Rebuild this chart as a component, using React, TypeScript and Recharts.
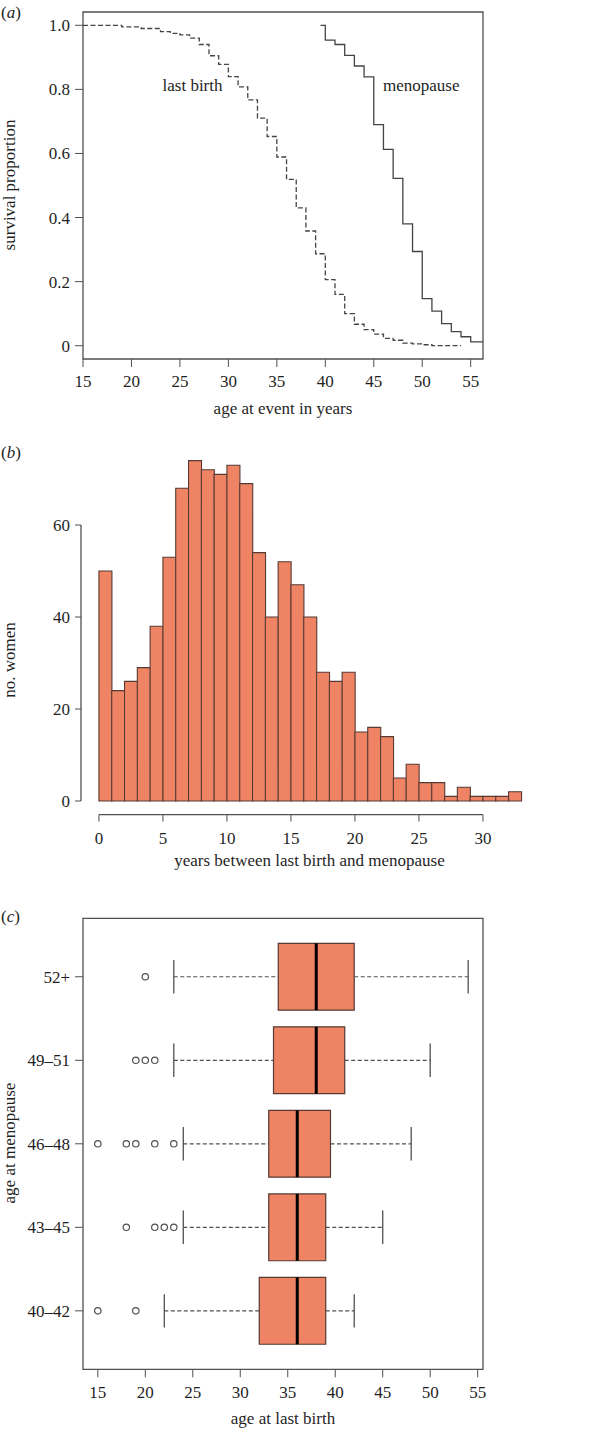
import React from 'react';
import {
  ComposedChart,
  Line,
  Bar,
  Scatter,
  XAxis,
  YAxis,
  ReferenceArea,
  ReferenceLine,
  ReferenceDot,
} from 'recharts';

const FONT = '"Liberation Serif", "Times New Roman", serif';
const INK = '#1f1f1f';
const AXIS = '#505050';
const SALMON = '#EE8464';
const EDGE = '#563a33';

// (a) survival curves
const lastBirthAge = [15, 19, 21, 23, 24, 25, 26, 27, 28, 29, 30, 31, 32, 33, 34, 35, 36, 37, 38, 39, 40, 41, 42, 43, 44, 45, 46, 47, 48, 49, 50, 51, 54];
const lastBirthSurv = [1.0, 0.995, 0.99, 0.98, 0.975, 0.97, 0.96, 0.94, 0.905, 0.878, 0.84, 0.808, 0.767, 0.71, 0.653, 0.589, 0.519, 0.43, 0.358, 0.287, 0.206, 0.16, 0.1, 0.067, 0.05, 0.036, 0.023, 0.017, 0.008, 0.006, 0.003, 0, 0];
const menoAge = [39.5, 40, 41, 42, 43, 44, 45, 46, 47, 48, 49, 50, 51, 52, 53, 54, 55, 57];
const menoSurv = [1.0, 0.954, 0.94, 0.906, 0.873, 0.839, 0.69, 0.613, 0.522, 0.38, 0.294, 0.147, 0.108, 0.069, 0.044, 0.028, 0.012, 0.012];
const ageTicks = [15, 20, 25, 30, 35, 40, 45, 50, 55];
const survTicks = [0, 0.2, 0.4, 0.6, 0.8, 1.0];

// (b) years between last birth and menopause, 1-year bins starting at 0
const gapCounts = [50, 24, 26, 29, 38, 53, 68, 74, 72, 71, 73, 69, 54, 40, 52, 47, 40, 28, 26, 28, 15, 16, 14, 5, 8, 4, 4, 1, 3, 1, 1, 1, 2];
const gapTicks = [0, 5, 10, 15, 20, 25, 30];
const countTicks = [0, 20, 40, 60];

// (c) age at last birth by age at menopause
const groups = ['40–42', '43–45', '46–48', '49–51', '52+'];
const whiskLo = [22, 24, 24, 23, 23];
const q1 = [32, 33, 33, 33.5, 34];
const med = [36, 36, 36, 38, 38];
const q3 = [39, 39, 39.5, 41, 42];
const whiskHi = [42, 45, 48, 50, 54];
const outliers = [[15, 19], [18, 21, 22, 23], [15, 18, 19, 21, 23], [19, 20, 21], [20]];
const birthTicks = [15, 20, 25, 30, 35, 40, 45, 50, 55];

const lastBirthData = lastBirthAge.map((x, i) => ({ x, y: lastBirthSurv[i] }));
const menoData = menoAge.map((x, i) => ({ x, y: menoSurv[i] }));
// bars sit on bin midpoints of a numeric axis
const gapData = gapCounts.map((n, i) => ({ mid: i + 0.5, n }));
const outlierData = outliers.flatMap((xs, i) => xs.map((x) => ({ x, y: i + 1 })));

const tickStyle = { fontSize: 17, fill: INK, fontFamily: FONT };
const titleStyle = { fontSize: 17, fill: INK, fontFamily: FONT };

const SurvivalPanel = () => {
  const xd: [number, number] = [15, 56.27];
  const yd: [number, number] = [-0.0415, 1.0415];
  return (
    <ComposedChart width={614} height={430} margin={{ top: 12, right: 131, bottom: 0, left: 0 }}>
      <XAxis
        type="number"
        dataKey="x"
        domain={xd}
        ticks={ageTicks}
        interval={0}
        allowDataOverflow
        axisLine={false}
        tickLine={{ stroke: AXIS }}
        tickSize={8}
        tickMargin={8}
        tick={tickStyle}
        height={71}
        label={{ value: 'age at event in years', position: 'insideBottom', offset: 16, ...titleStyle }}
      />
      <YAxis
        type="number"
        domain={yd}
        ticks={survTicks}
        interval={0}
        allowDataOverflow
        axisLine={false}
        tickLine={{ stroke: AXIS }}
        tickSize={8}
        tickMargin={5}
        tick={tickStyle}
        width={83}
        tickFormatter={(v: number) => (v === 0 ? '0' : v.toFixed(1))}
      />
      <ReferenceArea x1={xd[0]} x2={xd[1]} y1={yd[0]} y2={yd[1]} fill="none" stroke={AXIS} strokeWidth={1.3} ifOverflow="visible" />
      <Line data={lastBirthData} dataKey="y" type="stepAfter" stroke="#444" strokeWidth={1.3} strokeDasharray="5 2.5" dot={false} isAnimationActive={false} />
      <Line data={menoData} dataKey="y" type="stepAfter" stroke="#444" strokeWidth={1.3} dot={false} isAnimationActive={false} />
      <ReferenceDot x={26.3} y={0.814} r={0} fill="none" stroke="none" label={{ value: 'last birth', position: 'center', ...titleStyle }} />
      <ReferenceDot x={49.9} y={0.814} r={0} fill="none" stroke="none" label={{ value: 'menopause', position: 'center', ...titleStyle }} />
    </ComposedChart>
  );
};

const HistogramPanel = () => {
  const xd: [number, number] = [-1.4, 34.3];
  const yd: [number, number] = [-2.96, 76.96];
  return (
    <ComposedChart
      width={614}
      height={440}
      data={gapData}
      margin={{ top: 17, right: 76, bottom: 0, left: 0 }}
      barCategoryGap={0}
      barGap={0}
    >
      <XAxis
        type="number"
        dataKey="mid"
        domain={xd}
        ticks={gapTicks}
        interval={0}
        allowDataOverflow
        axisLine={false}
        tickLine={{ stroke: AXIS }}
        tickSize={7}
        tickMargin={10}
        tick={tickStyle}
        height={55.4}
        label={{ value: 'years between last birth and menopause', position: 'insideBottom', offset: 4, ...titleStyle }}
      />
      <YAxis
        type="number"
        domain={yd}
        ticks={countTicks}
        interval={0}
        allowDataOverflow
        axisLine={false}
        tickLine={{ stroke: AXIS }}
        tickSize={6}
        tickMargin={5}
        tick={tickStyle}
        width={81}
      />
      <Bar dataKey="n" fill={SALMON} stroke={EDGE} strokeWidth={1.1} isAnimationActive={false} />
      <ReferenceLine segment={[{ x: 0, y: yd[0] }, { x: 30, y: yd[0] }]} stroke={AXIS} strokeWidth={1.3} ifOverflow="visible" />
      <ReferenceLine segment={[{ x: xd[0], y: 0 }, { x: xd[0], y: 60 }]} stroke={AXIS} strokeWidth={1.3} ifOverflow="visible" />
    </ComposedChart>
  );
};

const OutlierDot = (p: any) => (
  <circle cx={p.cx} cy={p.cy} r={3.2} fill="#fff" stroke={AXIS} strokeWidth={1.2} />
);

const BoxPanel = () => {
  const xd: [number, number] = [13.44, 55.56];
  const yd: [number, number] = [0.3, 5.7];
  const half = 0.4;
  const cap = 0.2;
  const items: React.ReactNode[] = [];
  groups.forEach((g, i) => {
    const y = i + 1;
    items.push(
      <ReferenceLine key={`wl${i}`} segment={[{ x: whiskLo[i], y }, { x: q1[i], y }]} stroke={AXIS} strokeWidth={1.2} strokeDasharray="4 2.5" />,
      <ReferenceLine key={`wh${i}`} segment={[{ x: q3[i], y }, { x: whiskHi[i], y }]} stroke={AXIS} strokeWidth={1.2} strokeDasharray="4 2.5" />,
      <ReferenceLine key={`cl${i}`} segment={[{ x: whiskLo[i], y: y - cap }, { x: whiskLo[i], y: y + cap }]} stroke={AXIS} strokeWidth={1.3} />,
      <ReferenceLine key={`ch${i}`} segment={[{ x: whiskHi[i], y: y - cap }, { x: whiskHi[i], y: y + cap }]} stroke={AXIS} strokeWidth={1.3} />,
      <ReferenceArea key={`b${i}`} x1={q1[i]} x2={q3[i]} y1={y - half} y2={y + half} fill={SALMON} fillOpacity={1} stroke={EDGE} strokeWidth={1.2} />,
      <ReferenceLine key={`m${i}`} segment={[{ x: med[i], y: y - half }, { x: med[i], y: y + half }]} stroke="#000" strokeWidth={3} />,
    );
  });
  return (
    <ComposedChart width={614} height={560} margin={{ top: 48.3, right: 131, bottom: 0, left: 0 }}>
      <XAxis
        type="number"
        dataKey="x"
        domain={xd}
        ticks={birthTicks}
        interval={0}
        allowDataOverflow
        axisLine={false}
        tickLine={{ stroke: AXIS }}
        tickSize={8}
        tickMargin={9}
        tick={tickStyle}
        height={60.7}
        label={{ value: 'age at last birth', position: 'insideBottom', offset: 6, ...titleStyle }}
      />
      <YAxis
        type="number"
        dataKey="y"
        domain={yd}
        ticks={[1, 2, 3, 4, 5]}
        interval={0}
        allowDataOverflow
        axisLine={false}
        tickLine={{ stroke: AXIS }}
        tickSize={8}
        tickMargin={5}
        tick={tickStyle}
        width={83}
        tickFormatter={(v: number) => groups[v - 1]}
      />
      <ReferenceArea x1={xd[0]} x2={xd[1]} y1={yd[0]} y2={yd[1]} fill="none" stroke={AXIS} strokeWidth={1.3} ifOverflow="visible" />
      {items}
      <Scatter data={outlierData} shape={OutlierDot} isAnimationActive={false} />
    </ComposedChart>
  );
};

const Tag = ({ top, letter }: { top: number; letter: string }) => (
  <div style={{ position: 'absolute', left: 1, top, fontSize: 17, lineHeight: '20px', color: INK, fontFamily: FONT }}>
    (<i>{letter}</i>)
  </div>
);

const YTitle = ({ cy, text }: { cy: number; text: string }) => (
  <div
    style={{
      position: 'absolute',
      left: 10,
      top: cy,
      transform: 'translate(-50%, -50%) rotate(-90deg)',
      whiteSpace: 'nowrap',
      fontSize: 17,
      lineHeight: '20px',
      color: INK,
      fontFamily: FONT,
    }}
  >
    {text}
  </div>
);

export default function App() {
  return (
    <div style={{ position: 'absolute', left: 0, top: 0, width: 614, height: 1430, background: '#fff', fontFamily: FONT }}>
      <div style={{ position: 'absolute', left: 0, top: 0 }}>
        <SurvivalPanel />
      </div>
      <div style={{ position: 'absolute', left: 0, top: 430 }}>
        <HistogramPanel />
      </div>
      <div style={{ position: 'absolute', left: 0, top: 870 }}>
        <BoxPanel />
      </div>
      <Tag top={3} letter="a" />
      <Tag top={443} letter="b" />
      <Tag top={907} letter="c" />
      <YTitle cy={185} text="survival proportion" />
      <YTitle cy={660} text="no. women" />
      <YTitle cy={1143} text="age at menopause" />
    </div>
  );
}
